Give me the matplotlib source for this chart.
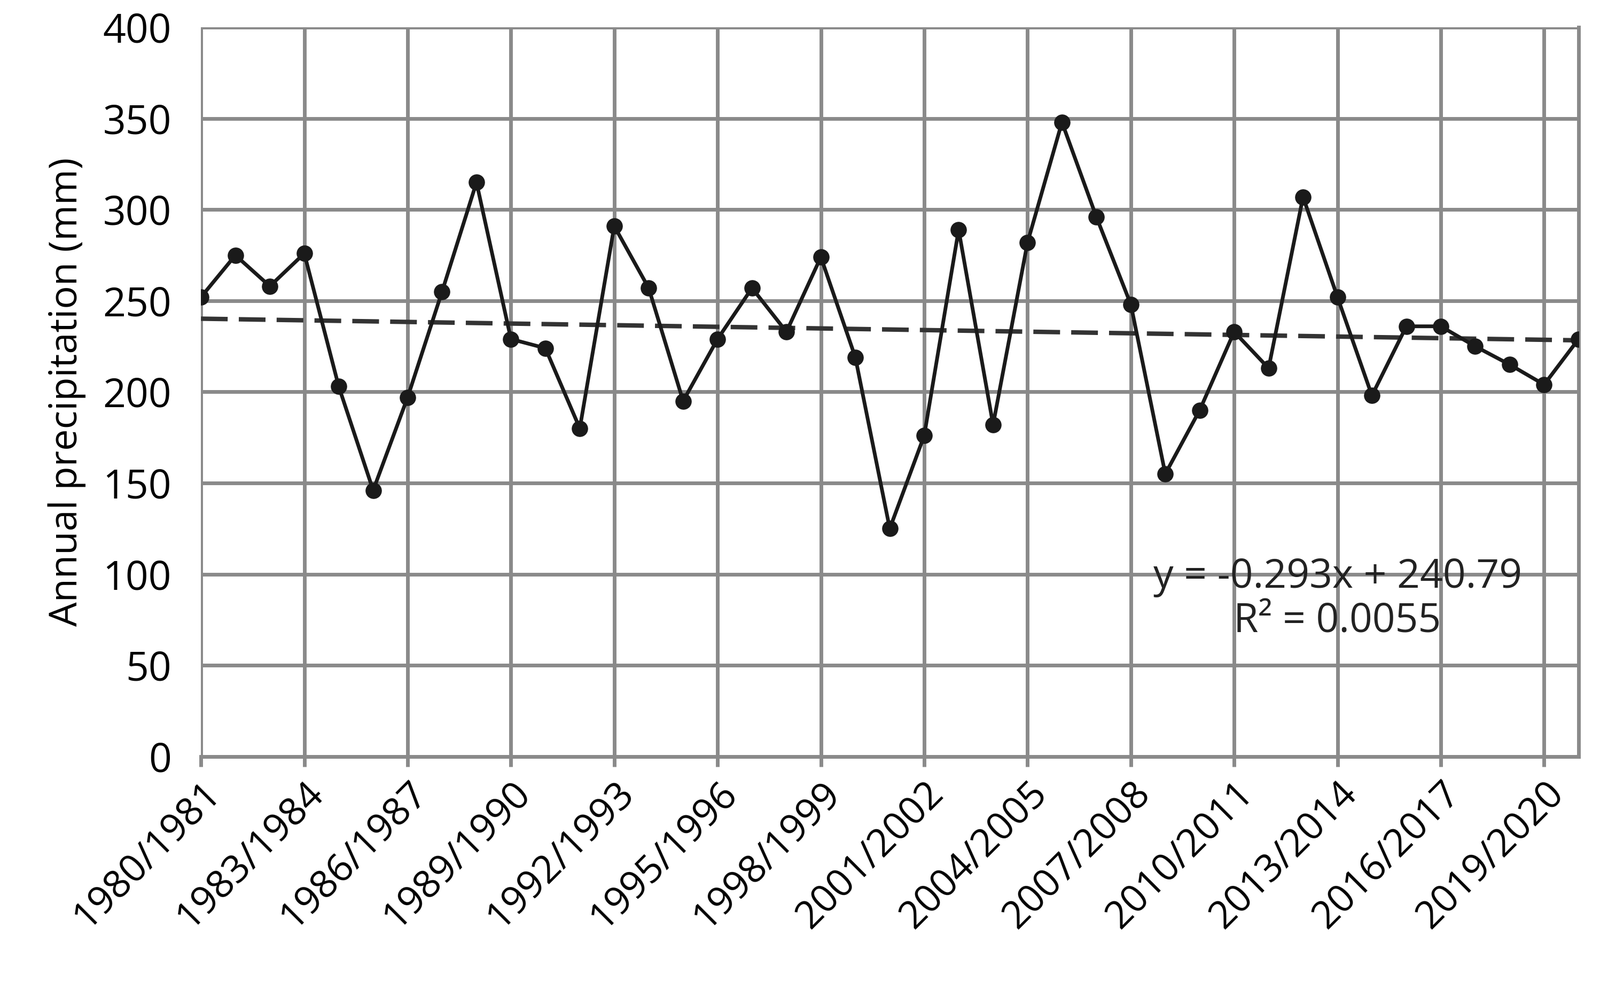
import numpy as np
import matplotlib.pyplot as plt

# annual precipitation per hydrological year (mm)
start_years = list(range(1980, 2021))
precip = [252, 275, 258, 276, 203, 146, 197, 255, 315, 229,
          224, 180, 291, 257, 195, 229, 257, 233, 274, 219,
          125, 176, 289, 182, 282, 348, 296, 248, 155, 190,
          233, 213, 307, 252, 198, 236, 236, 225, 215, 204, 229]
labels = [f"{y}/{y + 1}" for y in start_years]
trend_text = "y = -0.293x + 240.79\nR² = 0.0055"

x = np.arange(len(precip))
slope, intercept = np.polyfit(x + 1, precip, 1)

plt.rcParams["font.family"] = ["Open Sans", "DejaVu Sans"]

fig = plt.figure(figsize=(29.95, 18.36), dpi=100)
ax = fig.add_axes([0.1256, 0.229, 0.861, 0.743])

grid_col = "#8a8a8a"
ax.plot(x, precip, "-o", color="#1a1a1a", lw=5, ms=21, zorder=3)
ax.plot(x, intercept + slope * (x + 1), color="#333333", lw=6,
        dashes=(6, 2.5), zorder=2)

ax.set_xlim(0, len(precip) - 1)
ax.set_ylim(0, 400)
ax.set_yticks(range(0, 401, 50))
ax.set_xticks(x[::3])
ax.set_xticklabels(labels[::3], rotation=45, ha="right", rotation_mode="anchor")
ax.grid(True, color=grid_col, lw=5)
ax.set_axisbelow(True)
for side in ["top", "left"]:
    ax.spines[side].set_visible(False)
ax.spines["right"].set_color(grid_col)
ax.spines["right"].set_linewidth(5)
ax.spines["bottom"].set_color(grid_col)
ax.spines["bottom"].set_linewidth(5)
ax.tick_params(axis="y", length=0, labelsize=54, pad=40)
ax.tick_params(axis="x", length=14, width=5, color=grid_col, labelsize=52, pad=10)

ax.set_ylabel("Annual precipitation (mm)", fontsize=52, labelpad=22)
ax.text(0.825, 0.215, trend_text, transform=ax.transAxes, fontsize=54,
        ha="center", va="center", linespacing=1.15, color="#222222")

fig.savefig("out.png", dpi=100)
